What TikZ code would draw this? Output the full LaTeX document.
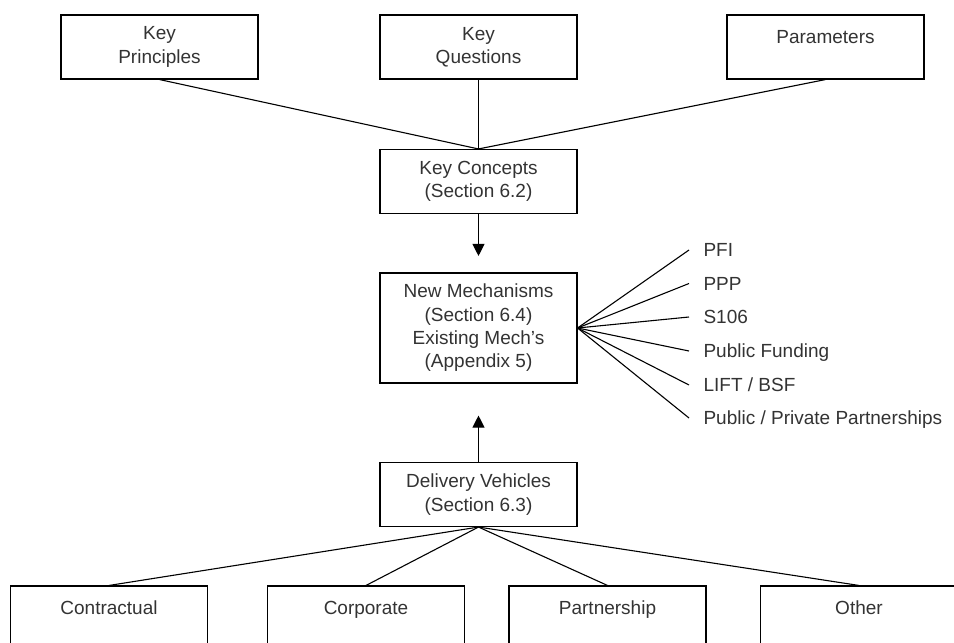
\documentclass[tikz,border=0pt]{standalone}
\usepackage{fontspec}
\setmainfont{Liberation Sans}
\usetikzlibrary{arrows.meta}

\begin{document}
\begin{tikzpicture}[x=1pt,y=-1pt,line width=1.1pt,
        > = {Triangle[width=12pt,length=12pt]},
        box/.style={draw,minimum width=197pt,minimum height=64pt,align=center,
            inner sep=0pt,text=black!80,font=\fontsize{19}{23.3}\selectfont},
        item/.style={anchor=west,inner xsep=14pt,inner ysep=0pt,text height=13.6pt,
            text depth=0pt,text=black!80,font=\fontsize{19}{23.3}\selectfont}]
            \useasboundingbox (0,0) rectangle (954,643);
            \clip (0,0) rectangle (954,643);
            % top row
            \node[box] (kp) at (159.5,47) {Key\\Principles};
            \node[box] (kq) at (478.5,47) {Key\\Questions};
            \node[box] (pa) at (825.5,47) {\strut Parameters\\\mbox{}};
            \node[box] (kc) at (478.5,181.5) {Key Concepts\\(Section 6.2)};
            \draw (kp.south) -- (kc.north);
            \draw (kq.south) -- (kc.north);
            \draw (pa.south) -- (kc.north);
            % mechanisms
            \node[box,minimum height=110pt] (nm) at (478.5,328)
                {New Mechanisms\\(Section 6.4)\\Existing Mech’s\\(Appendix 5)};
            \draw[->,shorten >=16.5pt] (kc.south) -- (nm.north);
            \foreach \name/\txt/\y in {pfi/PFI/250,ppp/PPP/283.5,s106/S106/317,
                    pf/Public Funding/351,lift/{LIFT / BSF}/385,pp/{Public / Private Partnerships}/418}
            {
                \node[item] (\name) at (689,\y) {\txt};
                \draw (nm.east) -- (\name.west);
            }
            % delivery vehicles
            \node[box] (dv) at (478.5,494.5) {Delivery Vehicles\\(Section 6.3)};
            \draw[->,shorten >=32pt] (dv.north) -- (nm.south);
            \node[box] (ct) at (109,618) {\strut Contractual\\\mbox{}};
            \node[box] (co) at (366,618) {\strut Corporate\\\mbox{}};
            \node[box] (pt) at (607.5,618) {\strut Partnership\\\mbox{}};
            \node[box] (ot) at (859,618) {\strut Other\\\mbox{}};
            \foreach \n in {ct,co,pt,ot}
                \draw (dv.south) -- (\n.north);
        \end{tikzpicture}
\end{document}
